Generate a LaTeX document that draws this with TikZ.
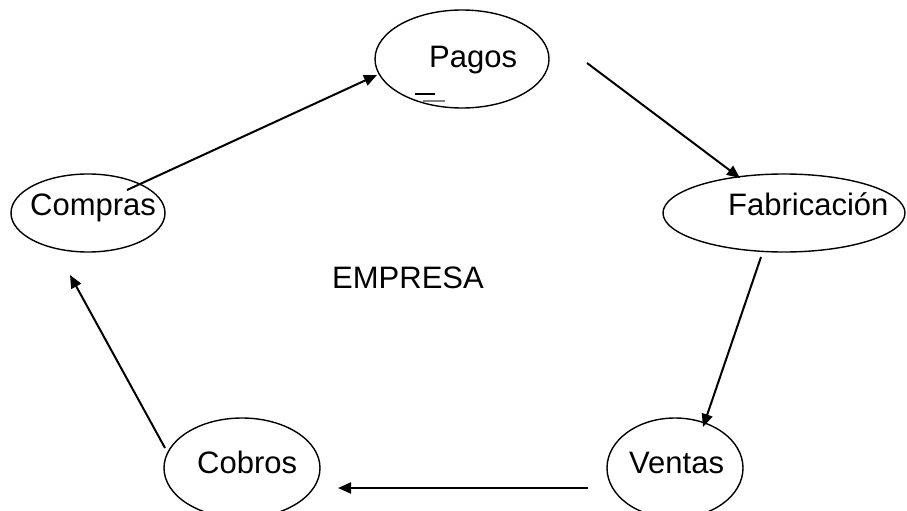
\documentclass[tikz,border=0pt]{standalone}
\usepackage{fontspec}
\setmainfont{Liberation Sans}
\usetikzlibrary{shapes.geometric,arrows.meta}
\begin{document}
\begin{tikzpicture}[x=1pt,y=-1pt,
  oval/.style={draw,ellipse,line width=1.4pt,inner sep=0pt},
  lbl/.style={anchor=base west,inner sep=0pt,font=\fontsize{31}{31}\selectfont},
  conn/.style={line width=2pt,-{Triangle[length=13pt,width=11pt]}}]
\useasboundingbox (0,0) rectangle (907,511);
% ellipses
\node[oval,minimum width=174pt,minimum height=98pt] (pagos) at (462,59) {};
\node[oval,minimum width=154pt,minimum height=78pt] (compras) at (88,213) {};
\node[oval,minimum width=242pt,minimum height=78pt] (fab) at (784,213) {};
\node[oval,minimum width=136pt,minimum height=100pt] (ventas) at (675,468) {};
\node[oval,minimum width=156pt,minimum height=100pt] (cobros) at (242,468) {};
% labels
\node[lbl] (tpagos) at (429,67) {Pagos};
\node[lbl] (tcompras) at (30,215) {Compras};
\node[lbl] (tfab) at (728,215) {Fabricación};
\node[lbl] (tventas) at (629,473) {Ventas};
\node[lbl] (tcobros) at (197,473) {Cobros};
\node[lbl] (empresa) at (332,288) {EMPRESA};
% small marks under Pagos
\coordinate (m1a) at (415,94); \coordinate (m1b) at (435,94);
\coordinate (m2a) at (423,101); \coordinate (m2b) at (445,101);
\draw[line width=1.6pt] (m1a) -- (m1b);
\draw[line width=2pt,color=black!50] (m2a) -- (m2b);
% connector end points
\coordinate (c1s) at (127,190); \coordinate (c1e) at (377,75);
\coordinate (c2s) at (587,63);  \coordinate (c2e) at (740,178);
\coordinate (c3s) at (761,257); \coordinate (c3e) at (703,427);
\coordinate (c4s) at (588,488); \coordinate (c4e) at (338,488);
\coordinate (c5s) at (165,448); \coordinate (c5e) at (70,275);
\draw[conn] (c1s) -- (c1e);
\draw[conn] (c2s) -- (c2e);
\draw[conn] (c3s) -- (c3e);
\draw[conn] (c4s) -- (c4e);
\draw[conn] (c5s) -- (c5e);
\end{tikzpicture}
\end{document}
